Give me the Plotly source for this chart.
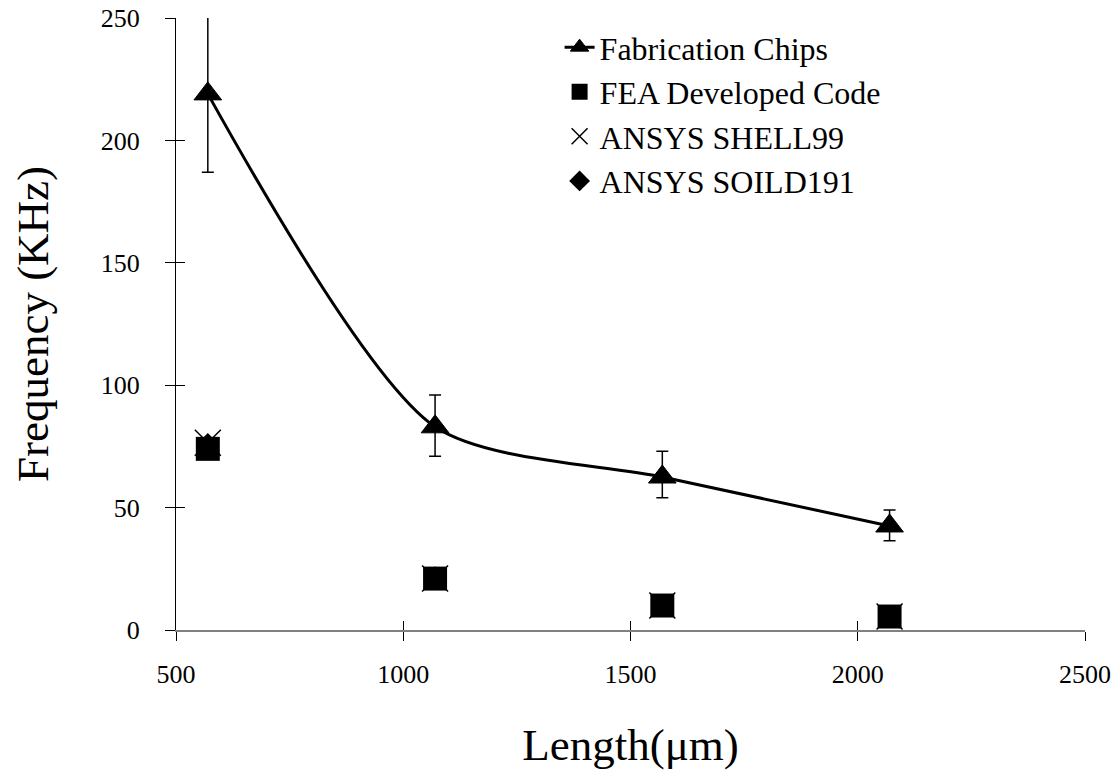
import plotly.graph_objects as go

# Data
length_um = [570, 1070, 1570, 2070]
fab_chips = [219, 83, 62.5, 42.5]
fab_err_plus = [33, 13, 10.5, 6.5]
fab_err_minus = [32, 12, 8.5, 6]
fea_code = [74, 21, 10, 5.5]
ansys_shell99 = [76.5, 21, 10, 5.5]
ansys_solid191 = [76, 21.5, 10, 5.5]

x_ticks = [500, 1000, 1500, 2000, 2500]
y_ticks = [0, 50, 100, 150, 200, 250]

FONT = "Liberation Serif"

fig = go.Figure()

fig.add_trace(go.Scatter(
    x=length_um, y=fab_chips, name="Fabrication Chips", mode="lines+markers",
    line=dict(color="black", width=3, shape="spline", smoothing=0.75),
    marker=dict(symbol="triangle-up", size=24, color="black", line=dict(color="black", width=1)),
    error_y=dict(type="data", symmetric=False, array=fab_err_plus, arrayminus=fab_err_minus,
                 color="black", thickness=1.5, width=6),
    cliponaxis=False, legendgroup="a",
))
fig.add_trace(go.Scatter(
    x=length_um, y=fea_code, name="FEA Developed Code", mode="markers",
    marker=dict(symbol="square", size=24, color="black"),
    cliponaxis=False, legendgroup="b",
))
fig.add_trace(go.Scatter(
    x=length_um, y=ansys_shell99, name="ANSYS SHELL99", mode="markers",
    marker=dict(symbol="x-thin", size=26, color="black", line=dict(color="black", width=1.5)),
    cliponaxis=False, legendgroup="c",
))
fig.add_trace(go.Scatter(
    x=length_um, y=ansys_solid191, name="ANSYS SOILD191", mode="markers",
    marker=dict(symbol="diamond", size=17, color="black"),
    cliponaxis=False, legendgroup="d",
))
# invisible trace to draw the inner half of the crossing tick marks
fig.add_trace(go.Scatter(x=[None], y=[None], xaxis="x2", yaxis="y2", showlegend=False,
                         hoverinfo="skip"))

fig.update_layout(
    width=1117, height=771,
    margin=dict(l=176, r=32, t=18, b=141, autoexpand=False),
    paper_bgcolor="white", plot_bgcolor="white",
    font=dict(family=FONT, color="black", size=26),
    showlegend=True,
    legend=dict(
        x=0.422, y=0.997, xanchor="left", yanchor="top", xref="paper", yref="paper",
        font=dict(family=FONT, size=32, color="black"),
        bgcolor="rgba(0,0,0,0)", tracegroupgap=0, traceorder="grouped",
    ),
    xaxis=dict(
        range=[500, 2500], tickvals=x_ticks, ticktext=[str(v) for v in x_ticks],
        showgrid=False, zeroline=False, showline=True, linecolor="#808080", linewidth=2,
        ticks="outside", ticklen=9, tickwidth=1, tickcolor="black",
        ticklabelstandoff=11, tickfont=dict(size=26), automargin=False,
        title=dict(text="Length(μm)", font=dict(size=45), standoff=40),
        fixedrange=True,
    ),
    yaxis=dict(
        range=[0, 250], tickvals=y_ticks, ticktext=[str(v) for v in y_ticks],
        showgrid=False, zeroline=False, showline=True, linecolor="black", linewidth=1,
        ticks="outside", ticklen=10, tickwidth=1, tickcolor="black",
        ticklabelstandoff=20, tickfont=dict(size=26), automargin=False,
        title=dict(text="Frequency (KHz)", font=dict(size=45), standoff=38),
        fixedrange=True,
    ),
    xaxis2=dict(
        range=[500, 2500], tickvals=x_ticks, overlaying="x", anchor="y", side="bottom",
        showgrid=False, zeroline=False, showline=False, showticklabels=False,
        ticks="inside", ticklen=9, tickwidth=1, tickcolor="black", fixedrange=True,
        automargin=False,
    ),
    yaxis2=dict(
        range=[0, 250], tickvals=y_ticks, overlaying="y", anchor="x", side="left",
        showgrid=False, zeroline=False, showline=False, showticklabels=False,
        ticks="inside", ticklen=9, tickwidth=1, tickcolor="black", fixedrange=True,
        automargin=False,
    ),
)

fig.write_html("out.html")
